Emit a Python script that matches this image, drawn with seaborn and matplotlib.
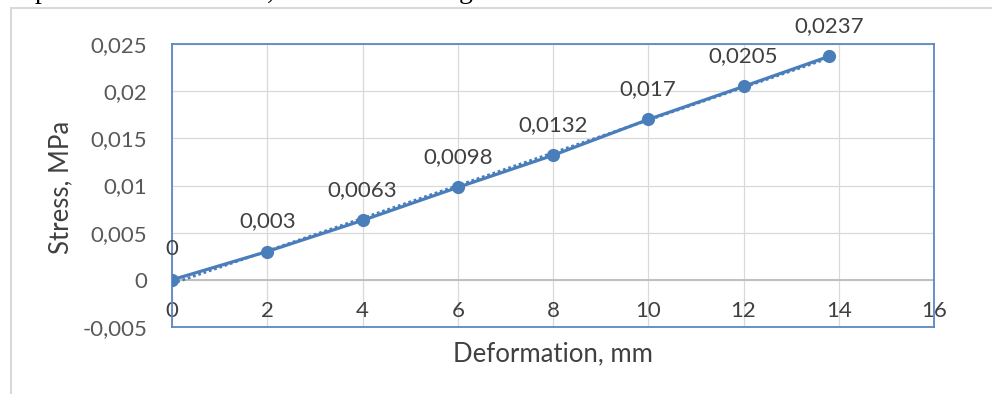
import matplotlib
matplotlib.use("Agg")
import matplotlib.pyplot as plt
import matplotlib.patches as mpatches
import seaborn as sns
import numpy as np
import pandas as pd

# ---- data ----
deformation_mm = [0, 2, 4, 6, 8, 10, 12, 13.8]
stress_mpa = [0, 0.003, 0.0063, 0.0098, 0.0132, 0.017, 0.0205, 0.0237]
x_ticks = [0, 2, 4, 6, 8, 10, 12, 14, 16]
y_ticks = [-0.005, 0, 0.005, 0.01, 0.015, 0.02, 0.025]
x_title = "Deformation, mm"
y_title = "Stress, MPa"

df = pd.DataFrame({"x": deformation_mm, "y": stress_mpa})

sns.set_theme(style="white")
plt.rcParams["font.family"] = ["Lato", "DejaVu Sans"]

W, H = 992, 394
fig = plt.figure(figsize=(W / 100, H / 100), dpi=100)
fig.patch.set_facecolor("white")

L, R, T, B = 172, 934, 44, 327
ax = fig.add_axes([L / W, 1 - B / H, (R - L) / W, (B - T) / H])

blue = "#4A7EBB"

# trendline (linear, dotted)
sns.regplot(data=df, x="x", y="y", scatter=False, ci=None, truncate=True, ax=ax,
            line_kws=dict(color=blue, lw=2.0, ls=(0, (1, 1)), zorder=4))
# data series
sns.lineplot(data=df, x="x", y="y", ax=ax, color=blue, lw=2.3, marker="o",
             markersize=9.5, markeredgewidth=0, zorder=5)

ax.set_xlim(0, 16)
ax.set_ylim(-0.005, 0.025)
ax.set_xticks(x_ticks)
ax.set_yticks(y_ticks)

def fmt(v):
    return f"{v:g}".replace(".", ",")

ax.set_xticklabels([fmt(v) for v in x_ticks])
ax.set_yticklabels([fmt(v) for v in y_ticks])

ax.grid(True, color="#D9D9D9", lw=0.9, zorder=0)
ax.set_axisbelow(True)
ax.axhline(0, color="#BFBFBF", lw=1.4, zorder=1)

for s in ax.spines.values():
    s.set_color("#5B87C6")
    s.set_linewidth(1.3)
    s.set_visible(True)

ax.tick_params(axis="x", length=0, pad=-19, labelsize=16, labelcolor="#404040")
ax.tick_params(axis="y", length=0, pad=18, labelsize=16, labelcolor="#595959")
for lab in ax.get_xticklabels():
    lab.set_zorder(6)

ax.set_xlabel("")
ax.set_ylabel("")
fig.text(553 / W, 1 - 354 / H, x_title, ha="center", va="center",
         fontsize=18.5, color="#404040")
fig.text(61 / W, 1 - 187 / H, y_title, ha="center", va="center",
         rotation=90, fontsize=18.5, color="#404040")

# data labels
for xv, yv in zip(deformation_mm, stress_mpa):
    ax.annotate(fmt(yv), (xv, yv), xytext=(0, 22), textcoords="offset points",
                ha="center", va="center", fontsize=16, color="#404040", zorder=7)

# outer chart frame (extends beyond the image)
fig.patches.append(mpatches.Rectangle((11 / W, -0.2), 2.0, (1 - 8 / H) + 0.2,
                                      transform=fig.transFigure, fill=False,
                                      ec="#D9D9D9", lw=1.5, zorder=0))

# descenders of the document text above the chart
for xp, ch in [(42, "p"), (270, ","), (466, "g")]:
    fig.text(xp / W, 1 + 1.5 / H, ch, ha="center", va="baseline",
             fontsize=20, family=["Liberation Serif", "DejaVu Serif"], color="black")

fig.savefig("out.png", dpi=100, facecolor="white")
